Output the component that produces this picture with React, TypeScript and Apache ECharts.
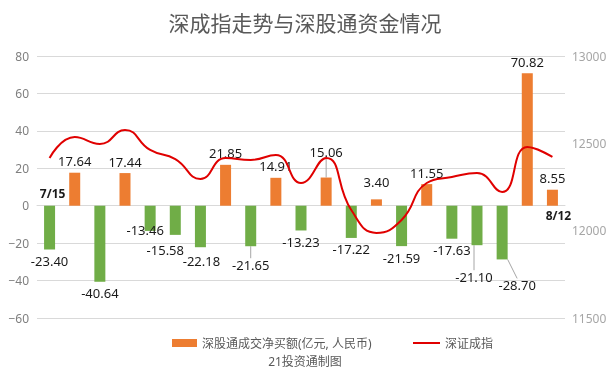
import React, { useEffect, useRef } from 'react';
import * as echarts from 'echarts';

const categories = ['7/15', '7/18', '7/19', '7/20', '7/21', '7/22', '7/25', '7/26', '7/27', '7/28', '7/29', '8/1', '8/2', '8/3', '8/4', '8/5', '8/8', '8/9', '8/10', '8/11', '8/12'];
const netBuy = [-23.40, 17.64, -40.64, 17.44, -13.46, -15.58, -22.18, 21.85, -21.65, 14.91, -13.23, 15.06, -17.22, 3.40, -21.59, 11.55, -17.63, -21.10, -28.70, 70.82, 8.55];
const szIndex = [12416, 12536, 12496, 12576, 12462, 12410, 12296, 12416, 12405, 12433, 12273, 12416, 12118, 11987, 12061, 12273, 12307, 12330, 12221, 12479, 12422];
const leftRange = { min: -60, max: 80, interval: 20 };
const rightRange = { min: 11500, max: 13000, interval: 500 };
const titleText = '深成指走势与深股通资金情况';
const barName = '深股通成交净买额(亿元, 人民币)';
const lineName = '深证成指';
const sourceText = '21投资通制图';
const firstLabel = '7/15';
const lastLabel = '8/12';

const ORANGE = '#ED7D31';
const GREEN = '#70AD47';
const RED = '#E00000';

// label nudges (dx, dy) for crowded labels
const labelNudge: Record<number, [number, number]> = {
  4: [-5, -12],
  5: [-10, 4],
  6: [1, 2],
  8: [0, 7],
  11: [0, -14],
  13: [0, -6],
  17: [-3, 20],
  18: [15, 14],
};
const withLeader = [8, 11, 17, 18];

export default function App() {
  const ref = useRef<HTMLDivElement>(null);
  useEffect(() => {
    if (!ref.current) return;
    const chart = echarts.init(ref.current, undefined, { renderer: 'svg' });
    const font = "'Noto Sans', 'Noto Sans CJK SC', sans-serif";
    chart.setOption({
      animation: false,
      textStyle: { fontFamily: font },
      title: [
        {
          text: titleText,
          left: 'center',
          top: 7,
          textStyle: { fontSize: 21, fontWeight: 'normal', color: '#595959', fontFamily: font },
        },
        {
          text: sourceText,
          left: 'center',
          top: 350,
          textStyle: { fontSize: 12, fontWeight: 'normal', color: '#595959', fontFamily: font },
        },
      ],
      legend: [
        {
          top: 332,
          left: 167,
          itemWidth: 25,
          itemHeight: 8,
          textStyle: { fontSize: 12, color: '#595959' },
          data: [{ name: barName, icon: 'rect', itemStyle: { color: ORANGE } }],
        },
        {
          top: 332,
          left: 408,
          itemWidth: 27,
          itemHeight: 2,
          textStyle: { fontSize: 12, color: '#595959' },
          data: [{ name: lineName, icon: 'rect', itemStyle: { color: RED } }],
        },
      ],
      grid: { left: 37, right: 45, top: 56, bottom: 53 },
      xAxis: {
        type: 'category',
        data: categories,
        axisLine: { lineStyle: { color: '#d9d9d9' } },
        axisTick: { show: false },
        axisLabel: { show: false },
      },
      yAxis: [
        {
          type: 'value',
          ...leftRange,
          axisLabel: {
            color: '#7f7f7f',
            fontSize: 12,
            formatter: (v: number) => String(v).replace('-', '−'),
          },
          axisLine: { show: false },
          axisTick: { show: false },
          splitLine: { lineStyle: { color: '#d9d9d9' } },
        },
        {
          type: 'value',
          ...rightRange,
          axisLabel: { color: '#a6a6a6', fontSize: 12, margin: 7, formatter: (v: number) => String(v) },
          axisLine: { show: false },
          axisTick: { show: false },
          splitLine: { show: false },
        },
      ],
      series: [
        {
          name: barName,
          type: 'bar',
          barWidth: 11,
          itemStyle: { color: ORANGE },
          data: netBuy.map((v, i) => ({
            value: v,
            itemStyle: { color: v >= 0 ? ORANGE : GREEN },
            label: { position: v >= 0 ? 'top' : 'bottom' },
            labelLine: { show: withLeader.includes(i) },
          })),
          label: {
            show: true,
            fontSize: 13,
            color: '#1a1a1a',
            formatter: (p: any) => Number(p.value).toFixed(2),
          },
          labelLine: { show: true, lineStyle: { color: '#a6a6a6', width: 1 } },
          labelLayout: (p: any) => {
            const n = labelNudge[p.dataIndex];
            if (!n) return {};
            return { dx: n[0], dy: n[1] };
          },
          markPoint: {
            symbol: 'circle',
            symbolSize: 0,
            label: { show: true, fontSize: 12, fontWeight: 'bold', color: '#1a1a1a' },
            data: [
              {
                coord: [categories[0], 0],
                label: { formatter: firstLabel, position: 'top', distance: 6, offset: [3, 0] },
              },
              {
                coord: [categories[categories.length - 1], 0],
                label: { formatter: lastLabel, position: 'bottom', distance: 4, offset: [6, 0] },
              },
            ],
          },
        },
        {
          name: lineName,
          type: 'line',
          yAxisIndex: 1,
          smooth: 0.5,
          symbol: 'none',
          lineStyle: { color: RED, width: 2 },
          itemStyle: { color: RED },
          data: szIndex,
        },
      ],
    });
    return () => chart.dispose();
  }, []);
  return <div ref={ref} style={{ position: 'fixed', left: 0, top: 0, width: 610, height: 371 }} />;
}
